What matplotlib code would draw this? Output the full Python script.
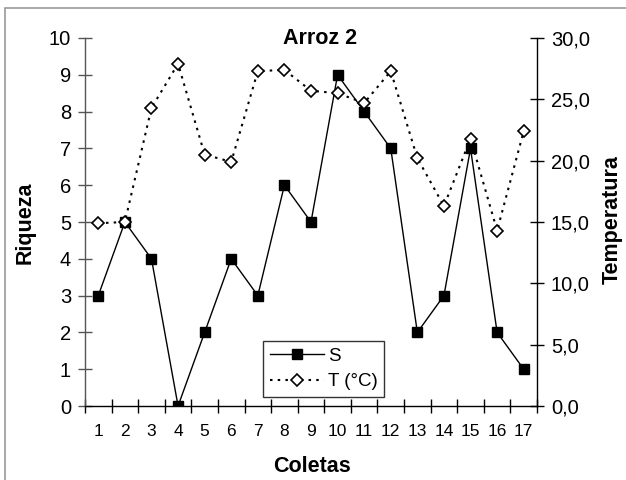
import matplotlib
matplotlib.use("Agg")
import matplotlib.pyplot as plt
from matplotlib.patches import Rectangle
from matplotlib.ticker import FixedLocator, NullFormatter, FuncFormatter

plt.rcParams['font.family'] = ['Liberation Sans', 'DejaVu Sans']

coletas = list(range(1, 18))
riqueza = [3, 5, 4, 0, 2, 4, 3, 6, 5, 9, 8, 7, 2, 3, 7, 2, 1]
temperatura = [14.9, 15.0, 24.3, 27.9, 20.5, 19.9, 27.3, 27.4, 25.7, 25.5,
               24.7, 27.3, 20.2, 16.3, 21.8, 14.3, 22.4]

fig = plt.figure(figsize=(6.26, 4.80), dpi=100)
W, H = 626, 480

# chart-area border
fig.patches.append(Rectangle((5 / W, -0.1), 1.2, 1 - 8 / H + 0.1,
                             transform=fig.transFigure, fill=False,
                             edgecolor='#9a9a9a', linewidth=1.2))

ax = fig.add_axes([85 / W, 1 - 406 / H, (537 - 85) / W, (406 - 38) / H])
ax2 = ax.twinx()

for a in (ax, ax2):
    a.patch.set_visible(False)
    for s in a.spines.values():
        s.set_visible(False)

ax.spines['left'].set_visible(True)
ax.spines['bottom'].set_visible(True)
ax2.spines['right'].set_visible(True)
for s in (ax.spines['left'], ax.spines['bottom'], ax2.spines['right']):
    s.set_color('black')
    s.set_linewidth(1.0)
ax.spines['left'].set_color('#555555')

ax.set_xlim(0.5, 17.5)
ax.set_ylim(0, 10)
ax2.set_ylim(0, 30)

# category axis: tick marks between categories, labels on categories
ax.xaxis.set_major_locator(FixedLocator([i + 0.5 for i in range(0, 18)]))
ax.xaxis.set_major_formatter(NullFormatter())
ax.set_xticks(coletas, [str(c) for c in coletas], minor=True)
ax.tick_params(axis='x', which='major', direction='inout', length=10,
               width=1.0, color='black')
ax.tick_params(axis='x', which='minor', length=0, pad=13, labelsize=12.5)

ax.set_yticks(range(0, 11))
ax.tick_params(axis='y', direction='inout', length=10, width=1.0,
               color='#555555', labelsize=14.5, pad=5)

ax2.set_yticks([0, 5, 10, 15, 20, 25, 30])
ax2.yaxis.set_major_formatter(FuncFormatter(lambda v, p: f"{v:.1f}".replace('.', ',')))
ax2.tick_params(axis='y', direction='inout', length=10, width=1.0,
                color='black', labelsize=14.5, pad=5)

l1, = ax.plot(coletas, riqueza, color='black', linewidth=1.0, marker='s',
              markersize=7, markerfacecolor='black', markeredgecolor='black',
              label='S', zorder=3)
l2, = ax2.plot(coletas, temperatura, color='black', linewidth=1.5,
               linestyle=(0, (1.2, 2.5)), marker='D', markersize=6,
               markerfacecolor='white', markeredgecolor='black',
               markeredgewidth=1.2, label='T (°C)', zorder=2)

leg = ax2.legend([l1, l2], ['S', 'T (°C)'], loc='lower left',
                 bbox_to_anchor=(263 / W, 1 - 397 / H, 121 / W, 61 / H),
                 bbox_transform=fig.transFigure, mode='expand',
                 frameon=True, fancybox=False, fontsize=13.5,
                 handlelength=2.9, handletextpad=0.2, borderpad=0.35,
                 labelspacing=0.45, borderaxespad=0)
leg.get_frame().set_edgecolor('black')
leg.get_frame().set_linewidth(1.0)

fig.text(320 / W, 1 - 39 / H, 'Arroz 2', ha='center', va='center',
         fontsize=15.5, fontweight='bold')
fig.text(312 / W, 1 - 467 / H, 'Coletas', ha='center', va='center',
         fontsize=15.5, fontweight='bold')
fig.text(25 / W, 1 - 223 / H, 'Riqueza', ha='center', va='center',
         rotation=90, fontsize=15.5, fontweight='bold')
fig.text(612 / W, 1 - 220 / H, 'Temperatura', ha='center', va='center',
         rotation=90, fontsize=15.5, fontweight='bold')

fig.savefig('out.png', dpi=100)
